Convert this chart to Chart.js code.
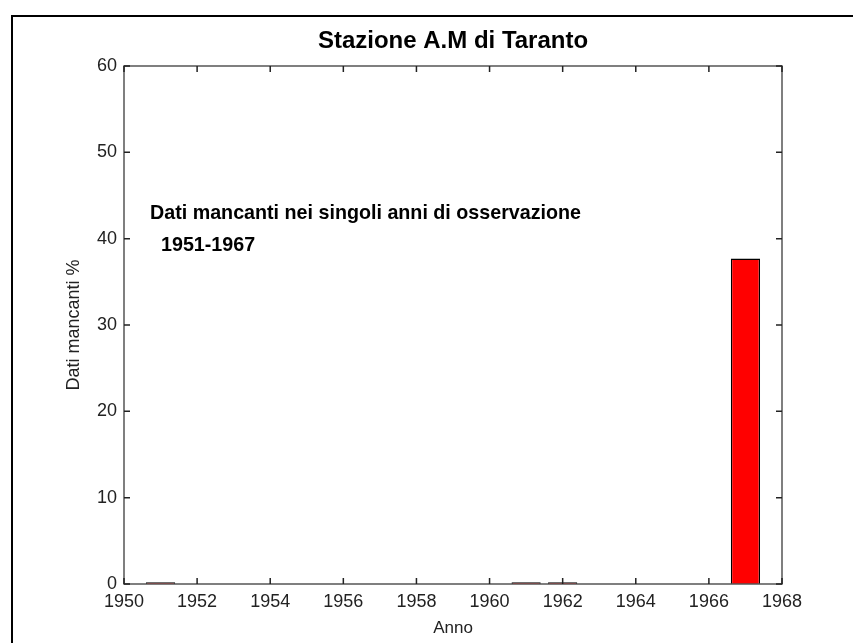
<!DOCTYPE html>
<html>
<head>
<meta charset="utf-8">
<script src="https://cdn.jsdelivr.net/npm/chart.js@4.4.0/dist/chart.umd.min.js"></script>
<style>
  body { margin: 0; background: #fff; }
  #wrap { width: 853px; height: 643px; }
</style>
</head>
<body>
<div id="wrap"><canvas id="myChart" width="853" height="643"></canvas></div>
<script>
// dati
const anni = [1951, 1952, 1953, 1954, 1955, 1956, 1957, 1958, 1959, 1960, 1961, 1962, 1963, 1964, 1965, 1966, 1967];
const mancanti = [0.2, 0, 0, 0, 0, 0, 0, 0, 0, 0, 0.2, 0.2, 0, 0, 0, 0, 37.7];
const xTicks = [1950, 1952, 1954, 1956, 1958, 1960, 1962, 1964, 1966, 1968];
const yTicks = [0, 10, 20, 30, 40, 50, 60];

const titolo = 'Stazione A.M di Taranto';
const nota1 = 'Dati mancanti nei singoli anni di osservazione';
const nota2 = '1951-1967';

const axisColor = '#555';
const fontName = '"Liberation Sans", Arial, sans-serif';

// frame, box, inward ticks, title and note
const matlabLook = {
    id: 'matlabLook',
    afterDraw(chart) {
        const c = chart.ctx;
        const a = chart.chartArea;
        const xs = chart.scales.x;
        const ys = chart.scales.y;
        c.save();

        // outer frame
        c.strokeStyle = '#000';
        c.lineWidth = 2;
        c.beginPath();
        c.moveTo(12, 643);
        c.lineTo(12, 16);
        c.lineTo(853, 16);
        c.stroke();

        // axes box
        c.strokeStyle = axisColor;
        c.lineWidth = 1.5;
        c.strokeRect(a.left, a.top, a.right - a.left, a.bottom - a.top);

        // ticks pointing inside
        c.strokeStyle = '#222';
        c.lineWidth = 1.5;
        c.beginPath();
        xTicks.forEach(v => {
            const px = xs.getPixelForValue(v);
            c.moveTo(px, a.bottom); c.lineTo(px, a.bottom - 6);
            c.moveTo(px, a.top); c.lineTo(px, a.top + 6);
        });
        yTicks.forEach(v => {
            const py = ys.getPixelForValue(v);
            c.moveTo(a.left, py); c.lineTo(a.left + 6, py);
            c.moveTo(a.right, py); c.lineTo(a.right - 6, py);
        });
        c.stroke();

        // title
        c.fillStyle = '#000';
        c.font = 'bold 24px ' + fontName;
        c.textAlign = 'center';
        c.textBaseline = 'middle';
        c.fillText(titolo, (a.left + a.right) / 2, 41);

        // note
        c.font = 'bold 19.7px ' + fontName;
        c.textAlign = 'left';
        c.fillText(nota1, a.left + 26, 214);
        c.fillText(nota2, a.left + 37, 246);

        c.restore();
    }
};

const ctx = document.getElementById('myChart').getContext('2d');
const myChart = new Chart(ctx, {
    type: 'bar',
    data: {
        datasets: [{
            data: anni.map((a, i) => ({ x: a, y: mancanti[i] })),
            backgroundColor: '#ff0000',
            borderColor: '#000',
            borderWidth: 1.4,
            barPercentage: 0.8,
            categoryPercentage: 1
        }]
    },
    options: {
        responsive: false,
        animation: false,
        layout: { padding: { left: 0, right: 71, top: 66, bottom: 0 } },
        plugins: {
            legend: { display: false },
            tooltip: { enabled: false }
        },
        scales: {
            x: {
                type: 'linear',
                min: 1950,
                max: 1968,
                offset: false,
                grid: { display: false, drawTicks: false },
                border: { display: false },
                afterFit(scale) { scale.height = 59; },
                afterBuildTicks(scale) { scale.ticks = xTicks.map(v => ({ value: v })); },
                ticks: {
                    color: '#222',
                    padding: 7,
                    maxRotation: 0,
                    autoSkip: false,
                    font: { family: fontName, size: 18 },
                    callback: v => String(v)
                },
                title: {
                    display: true,
                    text: 'Anno',
                    color: '#222',
                    padding: { top: 0, bottom: 4 },
                    font: { family: fontName, size: 17 }
                }
            },
            y: {
                min: 0,
                max: 60,
                grid: { display: false, drawTicks: false },
                border: { display: false },
                afterFit(scale) { scale.width = 124; },
                afterBuildTicks(scale) { scale.ticks = yTicks.map(v => ({ value: v })); },
                ticks: {
                    color: '#222',
                    padding: 7,
                    font: { family: fontName, size: 18 }
                },
                title: {
                    display: true,
                    text: 'Dati mancanti %',
                    color: '#222',
                    padding: { top: 63, bottom: 0 },
                    font: { family: fontName, size: 18 }
                }
            }
        }
    },
    plugins: [matlabLook]
});
</script>
</body>
</html>
